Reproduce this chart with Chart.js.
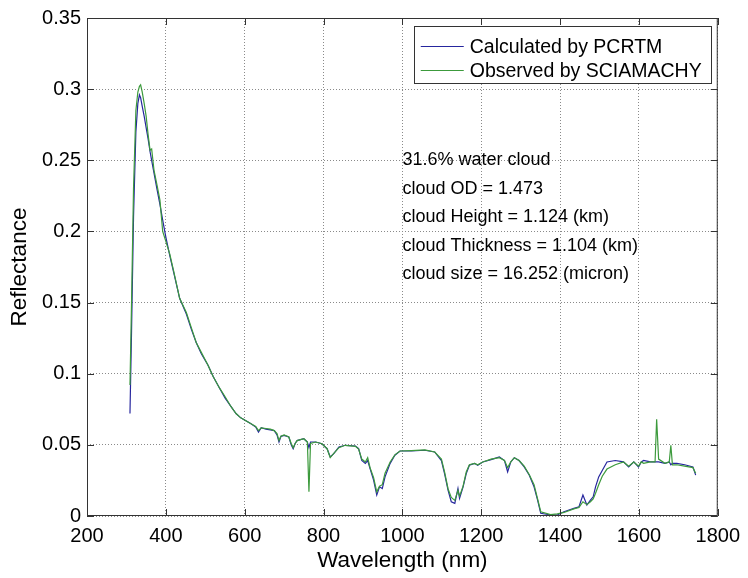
<!DOCTYPE html>
<html>
<head>
<meta charset="utf-8">
<script src="https://cdn.jsdelivr.net/npm/chart.js@4"></script>
<style>
  html, body { margin: 0; padding: 0; background: #fff; }
  #wrap { width: 748px; height: 578px; }
</style>
</head>
<body>
<div id="wrap"><canvas id="specChart"></canvas></div>
<script>
// wavelength (nm)
const wavelength = [309, 313, 318, 324, 329, 333, 336, 340, 345, 350, 355, 360, 364, 370, 378, 385, 392, 400, 410, 420,
  435, 452, 465, 477, 490, 507, 520, 536, 550, 565, 578, 590, 603, 615, 628, 635, 642, 654, 665, 675,
  682, 687, 692, 700, 712, 718, 723, 728, 733, 750, 759, 763, 767, 780, 796, 809, 817, 826, 839, 855,
  881, 889, 897, 906, 912, 918, 927, 935, 942, 949, 956, 969, 981, 994, 1023, 1057, 1082, 1099, 1107, 1116,
  1124, 1133, 1141, 1145, 1154, 1162, 1170, 1183, 1191, 1204, 1225, 1246, 1259, 1267, 1275, 1284, 1296, 1309, 1322, 1334,
  1343, 1351, 1376, 1393, 1410, 1435, 1448, 1458, 1468, 1477, 1484, 1490, 1498, 1507, 1519, 1540, 1561, 1574, 1587, 1599,
  1606, 1612, 1629, 1641, 1645, 1650, 1666, 1677, 1681, 1685, 1696, 1716, 1737, 1744];

const calculated = [0.072, 0.13, 0.21, 0.27, 0.29, 0.296, 0.294, 0.288, 0.281, 0.273, 0.265, 0.256, 0.250, 0.241, 0.229, 0.219, 0.208, 0.196, 0.183, 0.171,
  0.153, 0.142, 0.131, 0.122, 0.114, 0.106, 0.098, 0.090, 0.083, 0.077, 0.072, 0.069, 0.067, 0.065, 0.0625, 0.059, 0.062, 0.061, 0.0605, 0.060,
  0.057, 0.052, 0.056, 0.0566, 0.0555, 0.050, 0.0473, 0.051, 0.053, 0.0543, 0.052, 0.048, 0.052, 0.052, 0.0508, 0.0473, 0.0415, 0.0438, 0.0485, 0.0497,
  0.0492, 0.0473, 0.039, 0.037, 0.039, 0.0333, 0.0252, 0.0147, 0.0205, 0.0193, 0.0275, 0.037, 0.0427, 0.0457, 0.0457, 0.0462, 0.045, 0.039, 0.0298, 0.018,
  0.010, 0.0089, 0.0193, 0.0124, 0.0205, 0.0298, 0.0357, 0.037, 0.0357, 0.038, 0.0396, 0.0415, 0.039, 0.031, 0.038, 0.041, 0.039, 0.0345, 0.0287, 0.0205,
  0.0112, 0.0019, 0.0007, 0.0007, 0.003, 0.0054, 0.0065, 0.0147, 0.0077, 0.0112, 0.0135, 0.0205, 0.0275, 0.032, 0.038, 0.039, 0.038, 0.0345, 0.038, 0.0345,
  0.038, 0.039, 0.038, 0.038, 0.038, 0.038, 0.037, 0.038, 0.036, 0.037, 0.037, 0.036, 0.0345, 0.0287];

const observed = [0.092, 0.15, 0.23, 0.285, 0.298, 0.302, 0.303, 0.298, 0.29, 0.281, 0.268, 0.257, 0.258, 0.243, 0.232, 0.222, 0.200, 0.193, 0.184, 0.172,
  0.153, 0.143, 0.132, 0.122, 0.115, 0.106, 0.098, 0.090, 0.084, 0.077, 0.072, 0.069, 0.067, 0.065, 0.063, 0.060, 0.062, 0.0615, 0.061, 0.060,
  0.058, 0.053, 0.056, 0.057, 0.0555, 0.051, 0.048, 0.051, 0.053, 0.0543, 0.052, 0.017, 0.051, 0.052, 0.0508, 0.0473, 0.041, 0.044, 0.048, 0.0497,
  0.049, 0.047, 0.040, 0.038, 0.041, 0.034, 0.027, 0.017, 0.021, 0.022, 0.030, 0.038, 0.043, 0.0457, 0.046, 0.0465, 0.045, 0.040, 0.031, 0.019,
  0.013, 0.011, 0.018, 0.014, 0.021, 0.031, 0.036, 0.037, 0.036, 0.038, 0.040, 0.041, 0.039, 0.034, 0.038, 0.041, 0.039, 0.035, 0.029, 0.022,
  0.012, 0.003, 0.001, 0.0015, 0.0025, 0.005, 0.006, 0.010, 0.008, 0.010, 0.012, 0.016, 0.022, 0.028, 0.033, 0.036, 0.038, 0.035, 0.038, 0.035,
  0.038, 0.037, 0.038, 0.038, 0.068, 0.040, 0.037, 0.038, 0.0497, 0.036, 0.036, 0.035, 0.034, 0.030];

const seriesNames = ['Calculated by PCRTM', 'Observed by SCIAMACHY'];
const noteLines = ['31.6% water cloud', 'cloud OD = 1.473', 'cloud Height = 1.124 (km)',
  'cloud Thickness = 1.104 (km)', 'cloud size = 16.252 (micron)'];
const noteAt = { x: 1000, y: 0.25, step: 0.02 };

const FONT = '"Liberation Sans", Arial, Helvetica, sans-serif';
const BLUE = '#26269e';
const GREEN = '#3c9a3c';

function toPoints(ys) {
  return wavelength.map((w, i) => ({ x: w, y: ys[i] }));
}

// box, inward ticks, legend and text note (MATLAB look)
const matlabDecor = {
  id: 'matlabDecor',
  afterDatasetsDraw(chart) {
    const { ctx, chartArea: a, scales } = chart;
    ctx.save();
    ctx.strokeStyle = '#333';
    ctx.lineWidth = 1;
    ctx.strokeRect(a.left + 0.5, a.top + 0.5, a.right - a.left - 1, a.bottom - a.top - 1);
    const tl = 7;
    ctx.beginPath();
    scales.x.ticks.forEach(t => {
      const px = Math.round(scales.x.getPixelForValue(t.value)) + 0.5;
      ctx.moveTo(px, a.bottom); ctx.lineTo(px, a.bottom - tl);
      ctx.moveTo(px, a.top); ctx.lineTo(px, a.top + tl);
    });
    scales.y.ticks.forEach(t => {
      const py = Math.round(scales.y.getPixelForValue(t.value)) + 0.5;
      ctx.moveTo(a.left, py); ctx.lineTo(a.left + tl, py);
      ctx.moveTo(a.right, py); ctx.lineTo(a.right - tl, py);
    });
    ctx.stroke();

    // text note
    ctx.fillStyle = '#000';
    ctx.font = '18px ' + FONT;
    ctx.textBaseline = 'middle';
    ctx.textAlign = 'left';
    noteLines.forEach((s, i) => {
      ctx.fillText(s, scales.x.getPixelForValue(noteAt.x), scales.y.getPixelForValue(noteAt.y - i * noteAt.step));
    });

    // legend
    const bx = a.right - 304, by = a.top + 7.5, bw = 297, bh = 57;
    ctx.fillStyle = '#fff';
    ctx.fillRect(bx, by, bw, bh);
    ctx.strokeStyle = '#333';
    ctx.strokeRect(Math.round(bx) + 0.5, Math.round(by) + 0.5, bw, bh);
    ctx.font = '19.5px ' + FONT;
    chart.data.datasets.forEach((ds, i) => {
      const ry = Math.round(by + 20 + i * 24) + 0.5;
      ctx.strokeStyle = ds.borderColor;
      ctx.beginPath();
      ctx.moveTo(bx + 7, ry); ctx.lineTo(bx + 50, ry);
      ctx.stroke();
      ctx.fillStyle = '#000';
      ctx.fillText(ds.label, bx + 56, ry + 1);
    });
    ctx.restore();
  }
};

const ctx = document.getElementById('specChart').getContext('2d');
const specChart = new Chart(ctx, {
  type: 'scatter',
  data: {
    datasets: [
      { label: seriesNames[0], data: toPoints(calculated), borderColor: BLUE, backgroundColor: BLUE,
        showLine: true, borderWidth: 1.2, pointRadius: 0, order: 1 },
      { label: seriesNames[1], data: toPoints(observed), borderColor: GREEN, backgroundColor: GREEN,
        showLine: true, borderWidth: 1.2, pointRadius: 0, order: 0 }
    ]
  },
  options: {
    responsive: true,
    maintainAspectRatio: false,
    animation: false,
    events: [],
    layout: { padding: { top: 15, right: 26, bottom: 0, left: 0 } },
    plugins: { legend: { display: false }, tooltip: { enabled: false } },
    scales: {
      x: {
        type: 'linear', min: 200, max: 1800,
        border: { display: false, dash: [1, 2] },
        grid: { color: '#8a8a8a', lineWidth: 1, drawTicks: false },
        ticks: { stepSize: 200, autoSkip: false, maxRotation: 0, padding: 8, color: '#000',
          font: { family: FONT, size: 20 }, callback: v => String(v) },
        title: { display: true, text: 'Wavelength (nm)', color: '#000',
          font: { family: FONT, size: 22.5 }, padding: { top: 0, bottom: 4 } },
        afterFit(s) { s.height = 62; }
      },
      y: {
        min: 0, max: 0.35,
        border: { display: false, dash: [1, 2] },
        grid: { color: '#8a8a8a', lineWidth: 1, drawTicks: false },
        ticks: { stepSize: 0.05, padding: 6, color: '#000', font: { family: FONT, size: 20 },
          callback: v => String(+v.toFixed(2)) },
        title: { display: true, text: 'Reflectance', color: '#000',
          font: { family: FONT, size: 22.5 }, padding: { top: 6, bottom: 0 } },
        afterFit(s) { s.width = 87; }
      }
    }
  },
  plugins: [matlabDecor]
});
</script>
</body>
</html>
